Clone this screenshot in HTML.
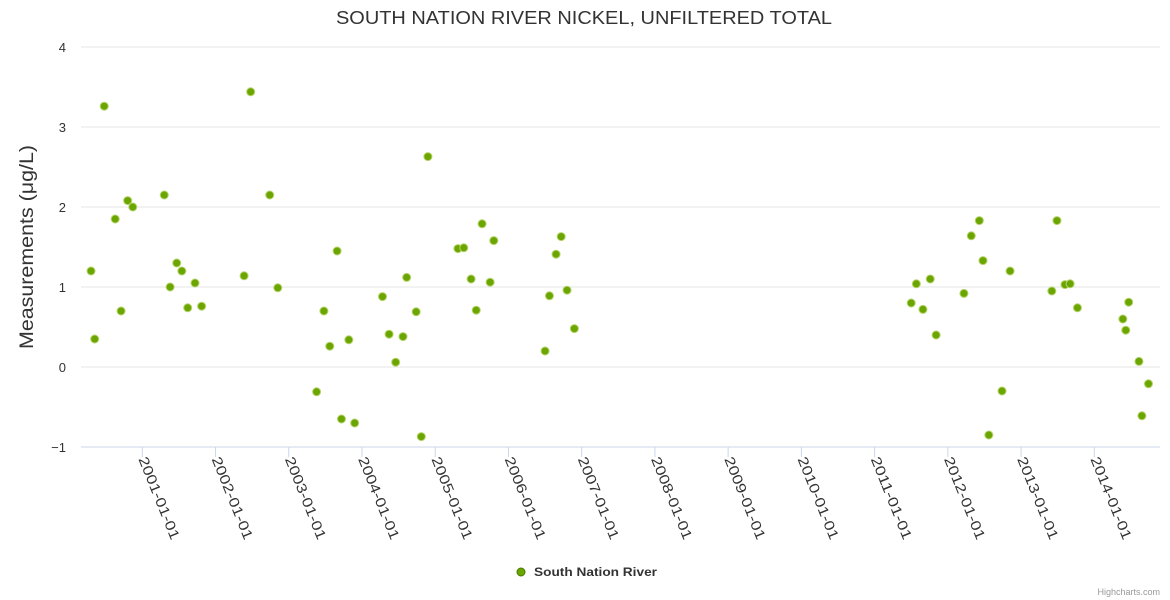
<!DOCTYPE html>
<html><head><meta charset="utf-8"><style>
html,body{margin:0;padding:0;background:#fff;width:1170px;height:600px;overflow:hidden}
svg{font-family:"Liberation Sans",sans-serif}
</style></head><body>
<svg id="chart" width="1170" height="600">
<text x="584" y="24" text-anchor="middle" font-size="18" fill="#333" textLength="496" lengthAdjust="spacingAndGlyphs">SOUTH NATION RIVER NICKEL, UNFILTERED TOTAL</text>
<text transform="translate(33,247) rotate(-90)" text-anchor="middle" font-size="19" fill="#333" textLength="204" lengthAdjust="spacingAndGlyphs">Measurements (μg/L)</text>
<g id="grid"></g><g id="xaxis"></g><g id="pts"></g>
<g>
<circle cx="521" cy="572" r="4" fill="#6aa500" stroke="#4a7a00" stroke-width="1"/>
<text x="534" y="576" font-size="12" font-weight="bold" fill="#333" textLength="123" lengthAdjust="spacingAndGlyphs">South Nation River</text>
</g>
<text x="1160" y="595" text-anchor="end" font-size="9" fill="#999">Highcharts.com</text>
</svg>
<script>
const yTicks=[-1,0,1,2,3,4];
const xTickYears=[2001,2002,2003,2004,2005,2006,2007,2008,2009,2010,2011,2012,2013,2014];
const dates=[2000.30,2000.35,2000.48,2000.63,2000.71,2000.80,2000.87,2001.30,2001.38,2001.47,2001.54,2001.62,2001.72,2001.81,2002.39,2002.48,2002.74,2002.85,2003.38,2003.48,2003.56,2003.66,2003.72,2003.82,2003.90,2004.28,2004.37,2004.46,2004.56,2004.61,2004.74,2004.81,2004.90,2005.31,2005.39,2005.49,2005.56,2005.64,2005.75,2005.80,2006.50,2006.56,2006.65,2006.72,2006.80,2006.90,2011.50,2011.57,2011.66,2011.76,2011.84,2012.22,2012.32,2012.43,2012.48,2012.56,2012.74,2012.85,2013.42,2013.49,2013.60,2013.67,2013.77,2014.39,2014.43,2014.47,2014.61,2014.65,2014.74];
const values=[1.20,0.35,3.26,1.85,0.70,2.08,2.00,2.15,1.00,1.30,1.20,0.74,1.05,0.76,1.14,3.44,2.15,0.99,-0.31,0.70,0.26,1.45,-0.65,0.34,-0.70,0.88,0.41,0.06,0.38,1.12,0.69,-0.87,2.63,1.48,1.49,1.10,0.71,1.79,1.06,1.58,0.20,0.89,1.41,1.63,0.96,0.48,0.80,1.04,0.72,1.10,0.40,0.92,1.64,1.83,1.33,-0.85,-0.30,1.20,0.95,1.83,1.03,1.04,0.74,0.60,0.46,0.81,0.07,-0.61,-0.21];
const NS='http://www.w3.org/2000/svg';
const xs=y=>142.3+(y-2001)*73.23;
const ys=v=>367-v*80;
function mk(t,a,p){const e=document.createElementNS(NS,t);for(const k in a)e.setAttribute(k,a[k]);p.appendChild(e);return e;}
const grid=document.getElementById('grid');
yTicks.forEach(v=>{
 if(v>-1){const l=mk('line',{x1:81,x2:1160,y1:ys(v),y2:ys(v),stroke:'#e6e6e6'},grid);
 
 }
 const t=mk('text',{x:66,y:ys(v)+5,'text-anchor':'end','font-size':13,fill:'#333'},grid);
 t.textContent=v<0?'\u2212'+Math.abs(v):v;
 
 
});
const xa=document.getElementById('xaxis');
const al=mk('line',{x1:81,x2:1160,y1:447,y2:447,stroke:'#ccd6eb'},xa);


xTickYears.forEach(y=>{
 const x=xs(y);
 mk('line',{x1:x,x2:x,y1:447,y2:457,stroke:'#ccd6eb'},xa);
 const t=mk('text',{x:0,y:0,'font-size':14,fill:'#333',textLength:88,lengthAdjust:'spacingAndGlyphs',transform:`translate(${x-4},459) rotate(68)`},xa);
 t.textContent=y+'-01-01';
 
 
});
const pts=document.getElementById('pts');
dates.forEach((d,i)=>{
 const c=mk('circle',{cx:xs(d),cy:ys(values[i]),r:4,fill:'#6aa500',stroke:'#b5d36a','stroke-width':1},pts);
 
 
});
</script>
</body></html>
